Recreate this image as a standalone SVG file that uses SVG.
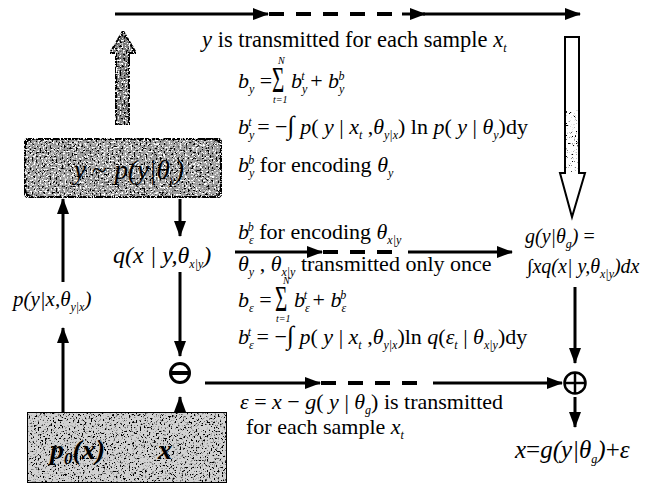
<svg xmlns="http://www.w3.org/2000/svg" width="655" height="487" viewBox="0 0 655 487" font-family="'Liberation Serif', 'Times New Roman', serif">
<style>
.t{font-family:"Liberation Serif","Times New Roman",serif;font-size:22px;fill:#000}
.i{font-style:italic}
.s{font-size:12px}
.n{font-size:10px}
.ln{stroke:#000;stroke-width:3;fill:none}
.dash{stroke:#000;stroke-width:4;fill:none;stroke-dasharray:15 12}
</style>
<defs>
<marker id="ah" markerUnits="userSpaceOnUse" markerWidth="16" markerHeight="12" refX="15" refY="6" orient="auto">
<path d="M0,0 L16,6 L0,12 Z" fill="#000"/>
</marker>
<filter id="noiseDark" x="0" y="0" width="100%" height="100%">
<feTurbulence type="fractalNoise" baseFrequency="0.5" numOctaves="2" seed="4" result="t"/>
<feColorMatrix in="t" type="matrix" values="0 0 0 0 0 0 0 0 0 0 0 0 0 0 0 8 0 0 0 -4.0" result="d"/>
<feTurbulence type="fractalNoise" baseFrequency="0.55" numOctaves="2" seed="11" result="t2"/>
<feColorMatrix in="t2" type="matrix" values="0 0 0 0 1 0 0 0 0 1 0 0 0 0 1 8 0 0 0 -4.4" result="w"/>
<feMerge result="m"><feMergeNode in="d"/><feMergeNode in="w"/></feMerge>
<feComposite in="m" in2="SourceGraphic" operator="atop"/>
</filter>
<filter id="noiseLight" x="0" y="0" width="100%" height="100%">
<feTurbulence type="fractalNoise" baseFrequency="0.55" numOctaves="2" seed="9" result="t"/>
<feColorMatrix in="t" type="matrix" values="0 0 0 0 0 0 0 0 0 0 0 0 0 0 0 8 0 0 0 -4.4" result="d"/>
<feComposite in="d" in2="SourceGraphic" operator="atop"/>
</filter>
<filter id="noiseSparse" x="0" y="0" width="100%" height="100%">
<feTurbulence type="fractalNoise" baseFrequency="0.9" numOctaves="2" seed="2" result="t"/>
<feColorMatrix in="t" type="matrix" values="0 0 0 0 0 0 0 0 0 0 0 0 0 0 0 9 0 0 0 -5.6" result="d"/>
<feComposite in="d" in2="SourceGraphic" operator="atop"/>
</filter>
</defs>

<g id="connectors">
<path class="ln" d="M115,14 H268" marker-end="url(#ah)"/>
<path class="dash" d="M269,14 H398"/>
<path class="ln" d="M402,14 H425" marker-end="url(#ah)"/>
<path class="ln" d="M423,14 H580" marker-end="url(#ah)"/>
<path class="ln" d="M235,252 H322" marker-end="url(#ah)"/>
<path class="dash" d="M323,252 H402"/>
<path class="ln" d="M408,252 H512" marker-end="url(#ah)"/>
<path class="ln" d="M205,383 H320" marker-end="url(#ah)"/>
<path class="dash" d="M321,383 H422"/>
<path class="ln" d="M433,383 H562" marker-end="url(#ah)"/>
<path class="ln" d="M63,412 V328" marker-end="url(#ah)"/>
<path class="ln" d="M63,282 V199" marker-end="url(#ah)"/>
<path class="ln" d="M180,199 V236" marker-end="url(#ah)"/>
<path class="ln" d="M180,272 V356" marker-end="url(#ah)"/>
<path class="ln" d="M180,412 V397" marker-end="url(#ah)"/>
<path class="ln" d="M575,287 V363" marker-end="url(#ah)"/>
<path class="ln" d="M575,397 V427" marker-end="url(#ah)"/>
</g>

<g id="upArrow">
<path d="M116,125 V53 H110 L123,31 L136,53 H129 V125 Z" fill="#808080" stroke="#000" stroke-width="2" filter="url(#noiseDark)"/>
</g>

<g id="downArrow">
<path d="M565,37 H579 V173 H585 L572,217 L560,173 H565 Z" fill="#fff" stroke="#000" stroke-width="2"/>
<path d="M566,110 H578 V172 H566 Z" fill="#fff" filter="url(#noiseSparse)"/>
</g>

<g id="modelY">
<rect x="24" y="138" width="198" height="60" rx="9" fill="#a0a0a0" stroke="#000" stroke-width="4" filter="url(#noiseDark)"/>
<text class="t i" x="74" y="179" style="font-size:27px"><tspan>y</tspan><tspan font-style="normal" dx="6">~</tspan><tspan dx="8">p</tspan>(<tspan>y</tspan>|θ<tspan class="s" baseline-shift="-5">y</tspan>)</text>
</g>

<g id="sourceX">
<rect x="27" y="412" width="200" height="71" fill="#d2d2d2" stroke="#000" stroke-width="2" filter="url(#noiseLight)"/>
<text class="t i" x="50" y="459" style="font-size:28px;font-weight:bold"><tspan>p</tspan><tspan font-size="17" baseline-shift="-5">0</tspan>(<tspan>x</tspan>)</text>
<text class="t i" x="158" y="459" style="font-size:28px;font-weight:bold">x</text>
</g>

<g id="minusNode">
<circle cx="180" cy="373" r="9.5" fill="#fff" stroke="#000" stroke-width="3"/>
<path d="M171,373 H189" stroke="#000" stroke-width="4"/>
</g>

<g id="plusNode">
<circle cx="575" cy="383" r="10.5" fill="#fff" stroke="#000" stroke-width="2.5"/>
<path d="M564.5,383 H585.5 M575,372.5 V393.5" stroke="#000" stroke-width="2.5"/>
</g>

<g id="labels">
<text class="t" x="202" y="47" style="font-size:22.5px"><tspan class="i">y</tspan> is transmitted for each sample <tspan class="i">x</tspan><tspan class="s i" baseline-shift="-5">t</tspan></text>

<text class="t" x="238" y="88"><tspan class="i">b</tspan><tspan class="s i" baseline-shift="-5">y</tspan> =</text>
<text class="t" style="font-size:27px" transform="translate(272,92) scale(0.78,1.35)">Σ</text>
<text class="t i" x="291" y="88">b<tspan class="s" baseline-shift="-5">y</tspan><tspan class="s" dx="-6" baseline-shift="8">t</tspan><tspan font-style="normal"> + </tspan>b<tspan class="s" baseline-shift="-5">y</tspan><tspan class="s" dx="-6" baseline-shift="8">b</tspan></text>
<text class="t i n" x="278" y="64">N</text>
<text class="t i n" x="273" y="103">t=1</text>

<text class="t" x="238" y="134"><tspan class="i">b</tspan><tspan class="s i" baseline-shift="-5">y</tspan><tspan class="s i" dx="-6" baseline-shift="8">t</tspan> = −<tspan font-size="26">∫</tspan> <tspan class="i">p</tspan>( <tspan class="i">y</tspan> | <tspan class="i">x</tspan><tspan class="s i" baseline-shift="-5">t</tspan> ,<tspan class="i">θ</tspan><tspan class="s i" baseline-shift="-5">y|x</tspan>) ln <tspan class="i">p</tspan>( <tspan class="i">y</tspan> | <tspan class="i">θ</tspan><tspan class="s i" baseline-shift="-5">y</tspan>)dy</text>

<text class="t" x="238" y="172"><tspan class="i">b</tspan><tspan class="s i" baseline-shift="-5">y</tspan><tspan class="s i" dx="-6" baseline-shift="8">b</tspan> for encoding  <tspan class="i">θ</tspan><tspan class="s i" baseline-shift="-5">y</tspan></text>

<text class="t" x="238" y="239"><tspan class="i">b</tspan><tspan class="s i" baseline-shift="-5">ε</tspan><tspan class="s i" dx="-6" baseline-shift="8">b</tspan> for encoding <tspan class="i">θ</tspan><tspan class="s i" baseline-shift="-5">x|y</tspan></text>

<text class="t" x="238" y="271"><tspan class="i">θ</tspan><tspan class="s i" baseline-shift="-5">y</tspan> , <tspan class="i">θ</tspan><tspan class="s i" baseline-shift="-5">x|y</tspan>   transmitted only once</text>

<text class="t" x="238" y="307"><tspan class="i">b</tspan><tspan class="s i" baseline-shift="-5">ε</tspan> =</text>
<text class="t" style="font-size:27px" transform="translate(275,311) scale(0.78,1.35)">Σ</text>
<text class="t i" x="294" y="307">b<tspan class="s" baseline-shift="-5">ε</tspan><tspan class="s" dx="-6" baseline-shift="8">t</tspan><tspan font-style="normal"> + </tspan>b<tspan class="s" baseline-shift="-5">ε</tspan><tspan class="s" dx="-6" baseline-shift="8">b</tspan></text>
<text class="t i n" x="283" y="284">N</text>
<text class="t i n" x="276" y="322">t=1</text>

<text class="t" x="238" y="344"><tspan class="i">b</tspan><tspan class="s i" baseline-shift="-5">ε</tspan><tspan class="s i" dx="-6" baseline-shift="8">t</tspan> = −<tspan font-size="26">∫</tspan> <tspan class="i">p</tspan>( <tspan class="i">y</tspan> | <tspan class="i">x</tspan><tspan class="s i" baseline-shift="-5">t</tspan> ,<tspan class="i">θ</tspan><tspan class="s i" baseline-shift="-5">y|x</tspan>)ln <tspan class="i">q</tspan>(<tspan class="i">ε</tspan><tspan class="s i" baseline-shift="-5">t</tspan> | <tspan class="i">θ</tspan><tspan class="s i" baseline-shift="-5">x|y</tspan>)dy</text>

<text class="t" x="240" y="409"><tspan class="i">ε</tspan> = <tspan class="i">x</tspan> − <tspan class="i">g</tspan>( <tspan class="i">y</tspan> | <tspan class="i">θ</tspan><tspan class="s i" baseline-shift="-5">g</tspan>) is transmitted</text>
<text class="t" x="246" y="434">for each sample <tspan class="i">x</tspan><tspan class="s i" baseline-shift="-5">t</tspan></text>

<text class="t i" x="13" y="306" style="font-size:21px">p(y|x,θ<tspan class="s" baseline-shift="-5">y|x</tspan>)</text>
<text class="t i" x="113" y="263" style="font-size:24px">q(x | y,θ<tspan class="s" baseline-shift="-5">x|y</tspan>)</text>

<text class="t i" x="525" y="243" style="font-size:20px">g(y|θ<tspan class="s" baseline-shift="-5">g</tspan>)<tspan font-style="normal"> =</tspan></text>
<text class="t i" x="527" y="273" style="font-size:20px">∫xq(x| y,θ<tspan class="s" baseline-shift="-5">x|y</tspan>)dx</text>
<text class="t i" x="515" y="458" style="font-size:25px">x<tspan font-style="normal">=</tspan>g(y|θ<tspan class="s" baseline-shift="-5">g</tspan>)<tspan font-style="normal">+</tspan>ε</text>
</g>
</svg>
